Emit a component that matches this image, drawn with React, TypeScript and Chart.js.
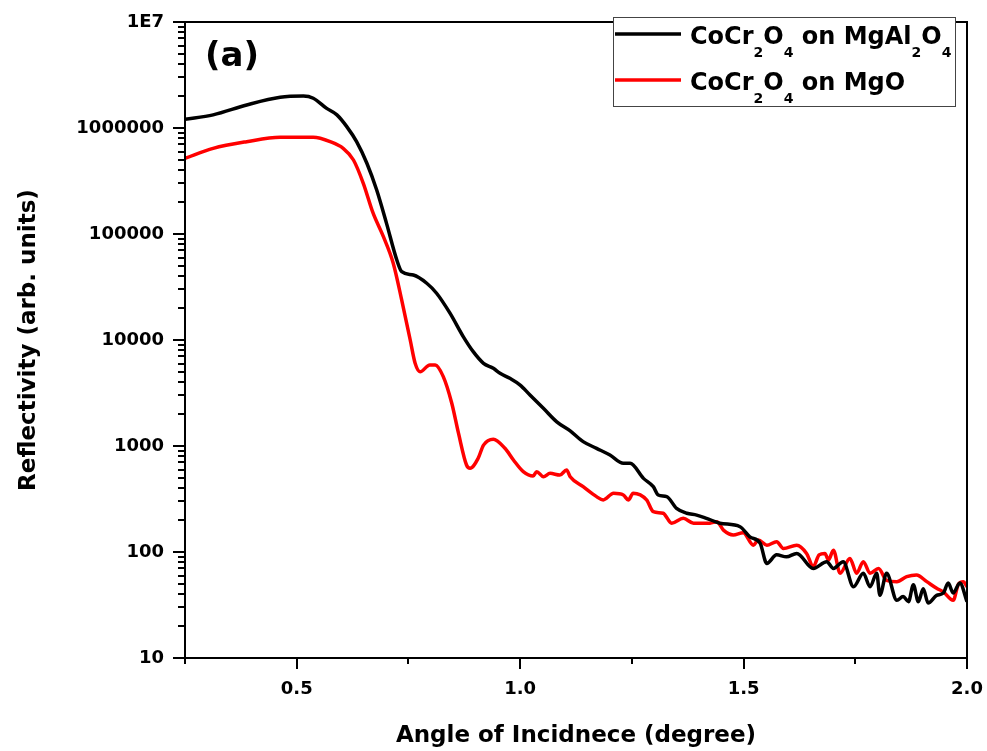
import React, { useEffect, useRef } from "react";
import { Chart, registerables } from "chart.js";
Chart.register(...registerables);

// ---- data ----
const blackX = [0.25,0.313,0.388,0.463,0.515,0.537,0.567,0.590,0.612,0.634,0.657,0.679,0.701,0.724,0.735,0.761,0.791,0.813,0.843,0.873,0.895,0.918,0.940,0.955,0.977,1.000,1.022,1.052,1.082,1.112,1.141,1.171,1.201,1.231,1.246,1.276,1.298,1.309,1.328,1.350,1.373,1.395,1.417,1.447,1.492,1.514,1.537,1.552,1.574,1.596,1.619,1.656,1.686,1.701,1.723,1.746,1.768,1.783,1.798,1.805,1.820,1.843,1.857,1.869,1.880,1.891,1.902,1.913,1.932,1.947,1.958,1.969,1.984,2.0];
const blackY = [1210000,1330000,1650000,1950000,2000000,1910000,1530000,1330000,1030000,743000,465000,260000,126000,56900,44100,41000,34300,27600,17900,10700,7760,6030,5410,4850,4350,3760,3030,2270,1690,1390,1100,951,822,687,687,495,413,345,333,258,232,223,208,187,173,139,121,78,94,90,97,70,81,70,81,47,63,47,63,39,63,35,38,34,49,34,45,33,39,41,51,41,51,34];

const redX = [0.25,0.313,0.388,0.463,0.537,0.575,0.604,0.627,0.649,0.671,0.694,0.716,0.735,0.754,0.765,0.776,0.798,0.810,0.828,0.847,0.862,0.880,0.888,0.906,0.918,0.940,0.966,0.985,1.007,1.029,1.037,1.052,1.067,1.089,1.104,1.112,1.141,1.171,1.186,1.209,1.231,1.242,1.253,1.283,1.298,1.320,1.339,1.365,1.388,1.425,1.440,1.455,1.477,1.499,1.522,1.533,1.552,1.574,1.589,1.619,1.641,1.656,1.669,1.682,1.690,1.701,1.716,1.738,1.753,1.768,1.783,1.802,1.820,1.843,1.865,1.887,1.910,1.932,1.947,1.969,1.981,1.992,2.0];
const redY = [518000,643000,743000,817000,817000,743000,643000,499000,301000,157000,94400,53000,23800,10000,6030,5020,5810,5810,4510,2530,1320,662,616,766,1020,1160,951,738,573,521,573,513,552,532,594,513,413,333,310,358,345,310,358,310,240,232,187,208,187,187,193,161,145,152,116,130,116,125,108,116,97,73,94,97,84,104,63,87,63,81,63,70,54,52.5,58.5,60.7,52.5,45.5,42,35,50,52.5,47];

const seriesLabels = ["CoCr2O4 on MgAl2O4", "CoCr2O4 on MgO"];
const seriesColors = ["#000000", "#ff0000"];
const xMajorTicks = [0.5, 1.0, 1.5, 2.0];
const xMinorTicks = [0.25, 0.75, 1.25, 1.75];
const yMajorTicks = [10, 100, 1000, 10000, 100000, 1000000, 10000000];
const xTitle = "Angle of Incidnece (degree)";
const yTitle = "Reflectivity (arb. units)";
const panelLabel = "(a)";

const FAMILY = "'DejaVu Sans', sans-serif";

const framePlugin = {
  id: "frame",
  afterDatasetsDraw(chart: any) {
    const { ctx, chartArea: a, scales } = chart;
    const xs = scales.x, ys = scales.y;
    ctx.save();
    ctx.strokeStyle = "#000";
    ctx.lineWidth = 2;
    ctx.strokeRect(a.left, a.top, a.right - a.left, a.bottom - a.top);
    ctx.beginPath();
    for (const v of xMajorTicks) {
      const p = Math.round(xs.getPixelForValue(v));
      ctx.moveTo(p, a.bottom); ctx.lineTo(p, a.bottom + 11);
    }
    for (const v of xMinorTicks) {
      const p = Math.round(xs.getPixelForValue(v));
      ctx.moveTo(p, a.bottom); ctx.lineTo(p, a.bottom + 6);
    }
    for (const d of yMajorTicks) {
      const p = Math.round(ys.getPixelForValue(d));
      ctx.moveTo(a.left, p); ctx.lineTo(a.left - 12, p);
      if (d < 10000000) {
        for (let m = 2; m <= 9; m++) {
          const q = Math.round(ys.getPixelForValue(d * m));
          ctx.moveTo(a.left, q); ctx.lineTo(a.left - 7, q);
        }
      }
    }
    ctx.stroke();
    ctx.restore();
  },
};

function drawRich(ctx: any, text: string, x: number, y: number, main: number, sub: number) {
  let cx = x;
  const parts = text.match(/(\d+|\D+)/g) || [];
  for (const part of parts) {
    const isSub = /^\d+$/.test(part);
    ctx.font = `bold ${isSub ? sub : main}px ${FAMILY}`;
    ctx.fillText(part, cx, isSub ? y + 13 : y);
    cx += ctx.measureText(part).width;
  }
}

const legendPlugin = {
  id: "customLegend",
  afterDraw(chart: any) {
    const { ctx } = chart;
    ctx.save();
    ctx.fillStyle = "#fff";
    ctx.fillRect(613, 17, 342, 89);
    ctx.strokeStyle = "#444";
    ctx.lineWidth = 1;
    ctx.strokeRect(613.5, 17.5, 342, 89);
    const rows = [34, 80];
    seriesLabels.forEach((lab, i) => {
      ctx.strokeStyle = seriesColors[i];
      ctx.lineWidth = 3.5;
      ctx.beginPath();
      ctx.moveTo(615, rows[i]);
      ctx.lineTo(681, rows[i]);
      ctx.stroke();
      ctx.fillStyle = "#000";
      ctx.textBaseline = "alphabetic";
      ctx.textAlign = "left";
      drawRich(ctx, lab, 690, rows[i] + 9.5, 24, 14);
    });
    ctx.font = `bold 34px ${FAMILY}`;
    ctx.fillStyle = "#000";
    ctx.fillText(panelLabel, 205, 66);
    ctx.restore();
  },
};

const zeroPad = (s: any) => {
  s.paddingTop = 0;
  s.paddingBottom = 0;
  s.paddingLeft = 0;
  s.paddingRight = 0;
};

export default function App() {
  const ref = useRef<HTMLCanvasElement>(null);
  useEffect(() => {
    const canvas = ref.current!;
    const chart = new Chart(canvas, {
      type: "line",
      data: {
        datasets: [
          {
            label: seriesLabels[0],
            data: blackX.map((x, i) => ({ x, y: blackY[i] })),
            borderColor: seriesColors[0],
            borderWidth: 3.5,
            pointRadius: 0,
            cubicInterpolationMode: "monotone",
            fill: false,
            borderJoinStyle: "round",
          },
          {
            label: seriesLabels[1],
            data: redX.map((x, i) => ({ x, y: redY[i] })),
            borderColor: seriesColors[1],
            borderWidth: 3.5,
            pointRadius: 0,
            cubicInterpolationMode: "monotone",
            fill: false,
            borderJoinStyle: "round",
          },
        ],
      },
      options: {
        responsive: false,
        animation: false,
        events: [],
        layout: { padding: { top: 22, right: 20, left: 0, bottom: 0 } },
        plugins: { legend: { display: false }, tooltip: { enabled: false } },
        scales: {
          x: {
            type: "linear",
            min: 0.25,
            max: 2.0,
            grid: { display: false, drawTicks: false },
            border: { display: false },
            afterBuildTicks: (s: any) => {
              s.ticks = xMajorTicks.map((v) => ({ value: v }));
            },
            afterFit: (s: any) => {
              s.height = 93;
              zeroPad(s);
            },
            ticks: {
              padding: 21,
              color: "#000",
              maxRotation: 0,
              autoSkip: false,
              font: { family: FAMILY, size: 18, weight: "bold" },
              callback: (v: any) => Number(v).toFixed(1),
            },
            title: {
              display: true,
              text: xTitle,
              color: "#000",
              font: { family: FAMILY, size: 23, weight: "bold" },
              padding: { top: 0, bottom: 1 },
            },
          },
          y: {
            type: "logarithmic",
            min: 10,
            max: 10000000,
            grid: { display: false, drawTicks: false },
            border: { display: false },
            afterBuildTicks: (s: any) => {
              s.ticks = yMajorTicks.map((v) => ({ value: v }));
            },
            afterFit: (s: any) => {
              s.width = 185;
              zeroPad(s);
            },
            ticks: {
              padding: 21,
              color: "#000",
              autoSkip: false,
              font: { family: FAMILY, size: 18, weight: "bold" },
              callback: (v: any) => (Number(v) === 10000000 ? "1E7" : String(Number(v))),
            },
            title: {
              display: true,
              text: yTitle,
              color: "#000",
              font: { family: FAMILY, size: 23, weight: "bold" },
              padding: { top: 15, bottom: 0 },
            },
          },
        },
      },
      plugins: [framePlugin, legendPlugin],
    } as any);
    return () => chart.destroy();
  }, []);
  return (
    <div style={{ position: "fixed", left: 0, top: 0, width: 987, height: 751, background: "#fff" }}>
      <canvas ref={ref} width={987} height={751} style={{ display: "block" }} />
    </div>
  );
}
